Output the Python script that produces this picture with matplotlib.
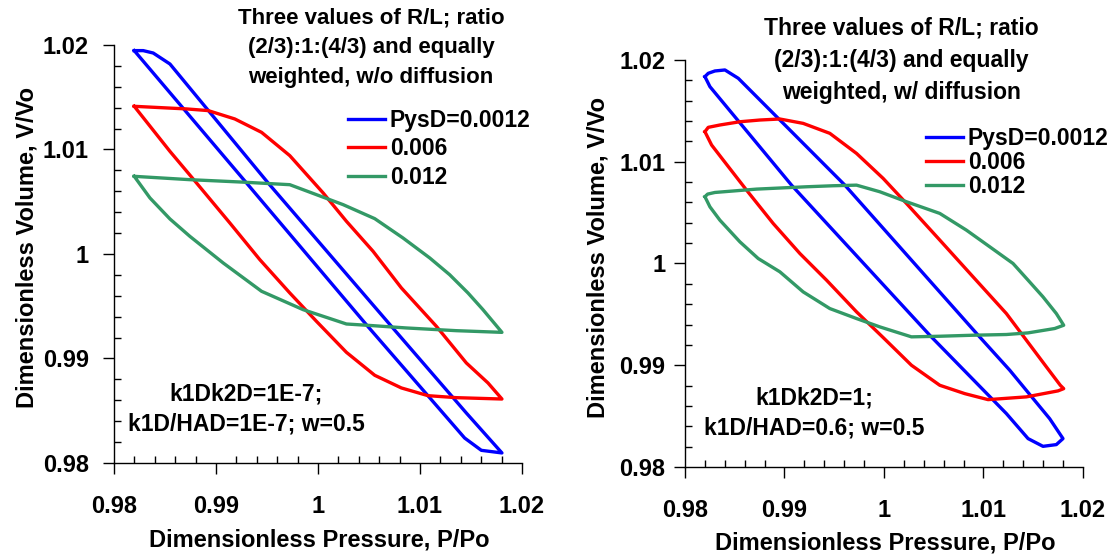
import numpy as np
import matplotlib.pyplot as plt
from matplotlib.ticker import MultipleLocator

plt.rcParams['font.family'] = ['Liberation Sans', 'DejaVu Sans']
plt.rcParams['font.weight'] = 'bold'

# ---- left panel: w/o diffusion (loops traced all the way round) ----
p_blue_wo = [0.98199, 0.99300, 1.00488, 1.01438, 1.01602, 1.01804,
             1.01455, 1.00720, 0.99512, 0.98549, 0.98385, 0.98287, 0.98199]
v_blue_wo = [1.01946, 1.00679, 0.99308, 0.98239, 0.98121, 0.98096,
             0.98478, 0.99308, 1.00679, 1.01818, 1.01923, 1.01946, 1.01946]

p_red_wo = [0.98199, 0.98549, 0.98810, 0.99136, 0.99430, 0.99724, 0.99985,
            1.00279, 1.00557, 1.00818, 1.01079, 1.01357, 1.01804,
            1.01667, 1.01455, 1.01161, 1.00818, 1.00540, 1.00279, 1.00051,
            0.99724, 0.99447, 0.99185, 0.98924, 0.98712, 0.98199]
v_red_wo = [1.01413, 1.00982, 1.00679, 1.00297, 0.99946, 0.99627, 0.99356,
            0.99059, 0.98839, 0.98718, 0.98644, 0.98625, 0.98612,
            0.98766, 0.98957, 0.99308, 0.99675, 1.00026, 1.00313, 1.00584,
            1.00941, 1.01164, 1.01292, 1.01372, 1.01388, 1.01413]

p_green_wo = [0.98199, 0.98353, 0.98549, 0.98744, 0.99071, 0.99447, 0.99855,
              1.00279, 1.00540, 1.00867, 1.01357, 1.01804,
              1.01618, 1.01471, 1.01291, 1.01096, 1.00834, 1.00557, 1.00247,
              0.99724, 0.99234, 0.98744, 0.98199]
v_green_wo = [1.00743, 1.00536, 1.00335, 1.00169, 0.99914, 0.99643, 0.99467,
              0.99330, 0.99314, 0.99292, 0.99266, 0.99250,
              0.99467, 0.99627, 0.99802, 0.99962, 1.00153, 1.00338, 1.00472,
              1.00663, 1.00689, 1.00711, 1.00743]

# ---- right panel: w/ diffusion ----
p_blue_w = [0.98201, 0.98251, 0.99071, 1.00460, 1.01230, 1.01448, 1.01598,
            1.01732, 1.01799, 1.01665, 1.01264, 1.00946, 0.99607, 0.98536,
            0.98402, 0.98301, 0.98234, 0.98201]
v_blue_w = [1.01836, 1.01738, 1.00770, 0.99295, 0.98525, 0.98279, 0.98203,
            0.98220, 0.98279, 0.98475, 0.98951, 0.99295, 1.00770, 1.01820,
            1.01902, 1.01892, 1.01869, 1.01836]

p_red_w = [0.98201, 0.98268, 0.98385, 0.98619, 0.98887, 0.99155, 0.99423,
           0.99724, 0.99992, 1.00276, 1.00561, 1.00812, 1.01046, 1.01431,
           1.01749, 1.01806,
           1.01772, 1.01632, 1.01431, 1.01230, 1.00895, 1.00561, 1.00226,
           0.99992, 0.99724, 0.99456, 0.99188, 0.98954, 0.98753, 0.98552,
           0.98351, 0.98234, 0.98201]
v_red_w = [1.01295, 1.01164, 1.01016, 1.00721, 1.00393, 1.00098, 0.99836,
           0.99525, 0.99272, 0.99000, 0.98803, 0.98721, 0.98662, 0.98689,
           0.98748, 0.98770,
           0.98803, 0.98984, 0.99246, 0.99508, 0.99869, 1.00230, 1.00590,
           1.00836, 1.01082, 1.01279, 1.01377, 1.01420, 1.01410, 1.01393,
           1.01361, 1.01338, 1.01295]

p_green_w = [0.98201, 0.98251, 0.98351, 0.98552, 0.98736, 0.98954, 0.99188,
             0.99456, 0.99724, 0.99958, 1.00276, 1.00561, 1.00895, 1.01230,
             1.01448, 1.01716, 1.01806,
             1.01732, 1.01598, 1.01448, 1.01297, 1.01063, 1.00828, 1.00561,
             1.00226, 0.99958, 0.99724, 0.99490, 0.99222, 0.98720, 0.98301,
             0.98228, 0.98201]
v_green_w = [1.00656, 1.00557, 1.00426, 1.00213, 1.00049, 0.99918, 0.99721,
             0.99557, 0.99459, 0.99377, 0.99279, 0.99285, 0.99295, 0.99302,
             0.99318, 0.99361, 0.99393,
             0.99508, 0.99672, 0.99836, 1.00000, 1.00164, 1.00328, 1.00492,
             1.00607, 1.00705, 1.00770, 1.00764, 1.00754, 1.00731, 1.00698,
             1.00682, 1.00656]

labels = ['PysD=0.0012', '0.006', '0.012']
colors = ['#0000ff', '#ff0000', '#339966']
tick_vals = [0.98, 0.99, 1.0, 1.01, 1.02]
tick_text = ['0.98', '0.99', '1', '1.01', '1.02']

W, H = 1115, 558
fig = plt.figure(figsize=(W / 100, H / 100), dpi=100)


def px(x, y):
    return x / W, 1 - y / H


def style(ax, ypad):
    ax.set_xlim(0.98, 1.02)
    ax.set_ylim(0.98, 1.02)
    for s in ['top', 'right']:
        ax.spines[s].set_visible(False)
    for s in ['left', 'bottom']:
        ax.spines[s].set_linewidth(1.0)
    ax.set_xticks(tick_vals, tick_text)
    ax.set_yticks(tick_vals, tick_text)
    ax.xaxis.set_minor_locator(MultipleLocator(0.002))
    ax.yaxis.set_minor_locator(MultipleLocator(0.002))
    ax.tick_params(which='major', direction='out', length=8, width=1,
                   labelsize=17)
    ax.tick_params(which='minor', direction='in', length=5, width=1)
    ax.tick_params(axis='x', which='major', pad=15)
    ax.tick_params(axis='y', which='major', pad=ypad)


ax1 = fig.add_axes([0.1022, 0.1703, 0.3659, 0.7491])
ax2 = fig.add_axes([0.6143, 0.1631, 0.3570, 0.7294])
style(ax1, 10)
style(ax2, 6)

for p, v, c, lab in zip([p_blue_wo, p_red_wo, p_green_wo],
                        [v_blue_wo, v_red_wo, v_green_wo], colors, labels):
    ax1.plot(p, v, color=c, lw=2.4, label=lab, clip_on=False)
for p, v, c, lab in zip([p_blue_w, p_red_w, p_green_w],
                        [v_blue_w, v_red_w, v_green_w], colors, labels):
    ax2.plot(p, v, color=c, lw=2.4, label=lab, clip_on=False)

ax1.legend(loc='upper left', bbox_to_anchor=px(348, 109),
           bbox_transform=fig.transFigure, frameon=False, fontsize=16.5,
           handlelength=1.6, handletextpad=0.22, labelspacing=0.23,
           borderpad=0, borderaxespad=0)
ax2.legend(loc='upper left', bbox_to_anchor=px(926, 127),
           bbox_transform=fig.transFigure, frameon=False, fontsize=16.5,
           handlelength=1.6, handletextpad=0.22, labelspacing=0.04,
           borderpad=0, borderaxespad=0)

fig.text(*px(371, 48), 'Three values of R/L; ratio\n(2/3):1:(4/3) and equally\n'
         'weighted, w/o diffusion', ha='center', va='center', fontsize=16,
         linespacing=1.55)
fig.text(*px(901, 60), 'Three values of R/L; ratio\n(2/3):1:(4/3) and equally\n'
         'weighted, w/ diffusion', ha='center', va='center', fontsize=16.5,
         linespacing=1.5)

fig.text(*px(246, 409), 'k1Dk2D=1E-7;\nk1D/HAD=1E-7; w=0.5', ha='center',
         va='center', fontsize=16.5, linespacing=1.4)
fig.text(*px(814, 413), 'k1Dk2D=1;\nk1D/HAD=0.6; w=0.5', ha='center',
         va='center', fontsize=16.5, linespacing=1.4)

fig.text(*px(319, 540), 'Dimensionless Pressure, P/Po', ha='center',
         va='center', fontsize=17)
fig.text(*px(885, 543), 'Dimensionless Pressure, P/Po', ha='center',
         va='center', fontsize=17)
fig.text(*px(27, 248), 'Dimensionless Volume, V/Vo', ha='center',
         va='center', rotation=90, fontsize=17)
fig.text(*px(598, 257), 'Dimensionless Volume, V/Vo', ha='center',
         va='center', rotation=90, fontsize=17)

fig.savefig('out.png', dpi=100)
